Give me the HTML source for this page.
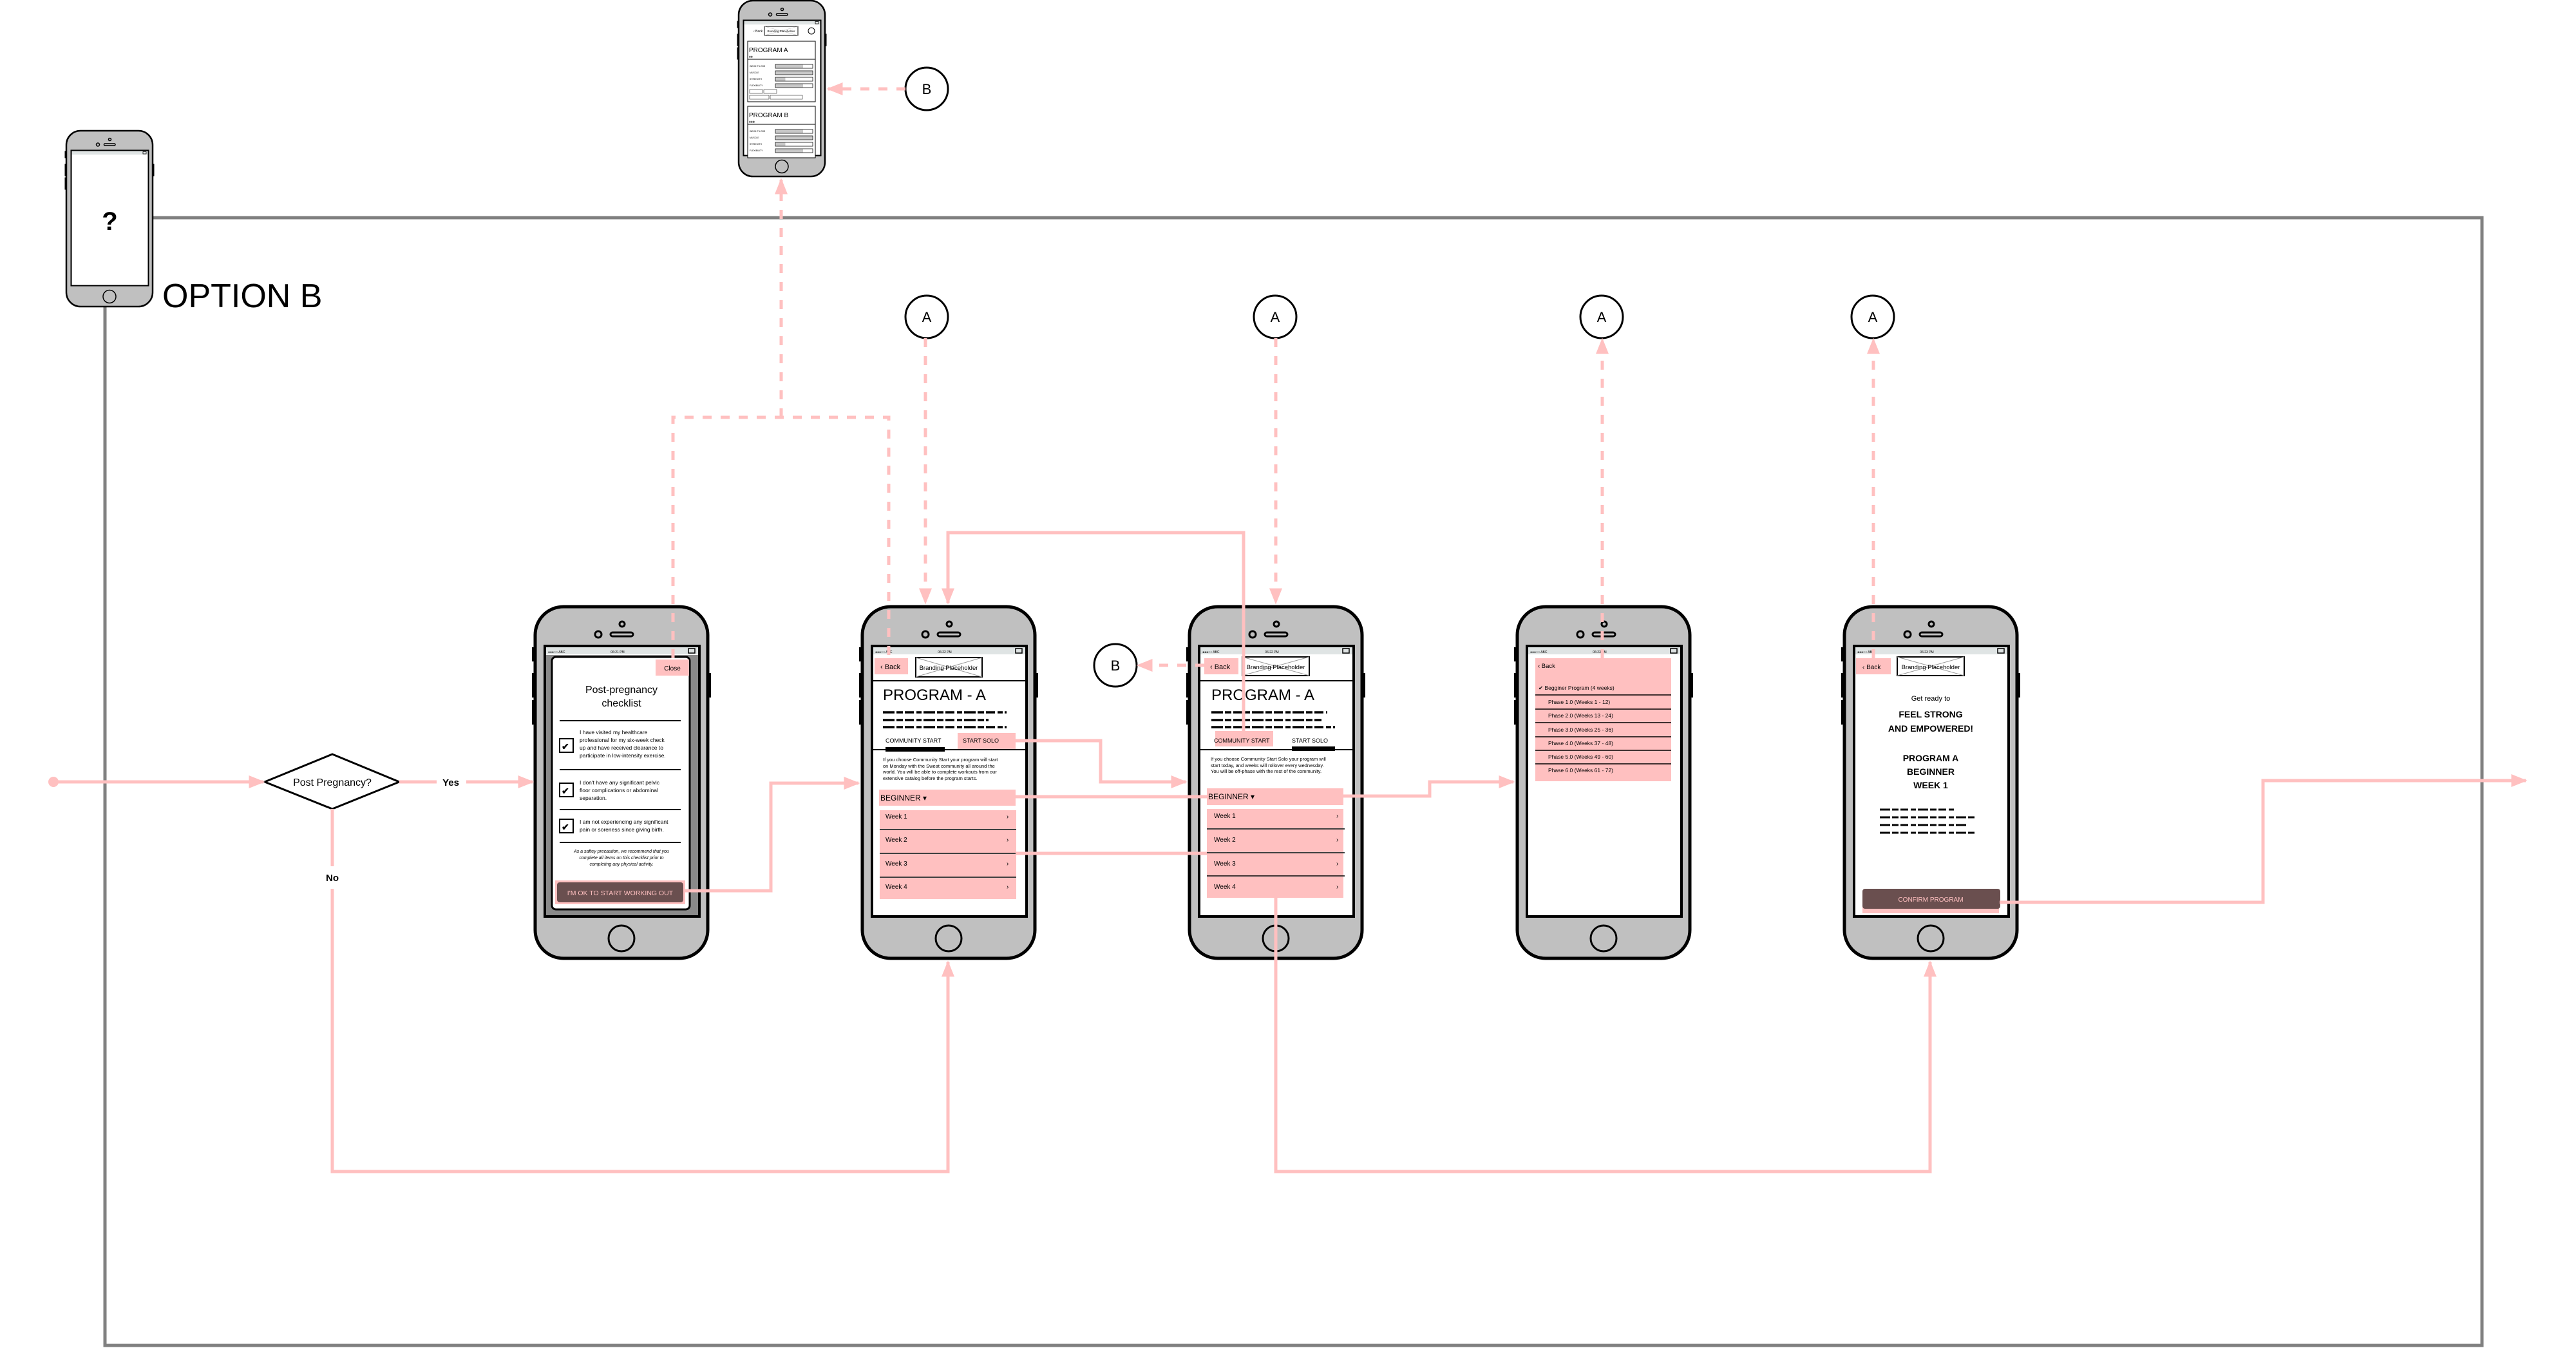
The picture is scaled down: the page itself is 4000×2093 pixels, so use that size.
<!DOCTYPE html>
<html><head><meta charset="utf-8"><style>
html,body{margin:0;padding:0;background:#fff}
svg{display:block}
text{font-family:"Liberation Sans",sans-serif}
</style></head><body>
<svg width="4000" height="2093" viewBox="0 0 4000 2093" xmlns="http://www.w3.org/2000/svg">
<defs>
<g id="frame">
 <rect x="-3" y="65" width="6" height="22" fill="#000"/>
 <rect x="-3" y="105" width="6" height="38" fill="#000"/>
 <rect x="-3" y="147" width="6" height="38" fill="#000"/>
 <rect x="269" y="105" width="6" height="38" fill="#000"/>
 <rect x="2" y="2" width="268" height="546" rx="44" fill="#c0c0c0" stroke="#000" stroke-width="5"/>
 <circle cx="137" cy="29" r="4" fill="none" stroke="#000" stroke-width="3"/>
 <circle cx="100" cy="45" r="5" fill="none" stroke="#000" stroke-width="3"/>
 <rect x="119" y="42" width="35" height="6" rx="3" fill="none" stroke="#000" stroke-width="3"/>
 <circle cx="136" cy="517" r="20" fill="none" stroke="#000" stroke-width="3"/>
 <rect x="17" y="63" width="240" height="420" fill="#fff" stroke="#000" stroke-width="4"/>
 <rect x="19" y="65" width="236" height="11" fill="#dfe4e4"/>
 <rect x="240" y="67" width="10" height="7" fill="none" stroke="#000" stroke-width="1.5"/>
</g>
<marker id="ah" viewBox="0 0 10 10" refX="9" refY="5" markerWidth="5" markerHeight="5" orient="auto" markerUnits="strokeWidth">
 <path d="M0,1 L10,5 L0,9 z" fill="#ffc0c0"/>
</marker>
</defs>

<!-- Big grey container -->
<rect x="163" y="338" width="3691" height="1751" fill="none" stroke="#808080" stroke-width="5"/>

<!-- ? phone -->
<g transform="translate(102,202) scale(0.5)">
 <use href="#frame"/>
 <text x="137" y="310" font-size="80" font-weight="bold" text-anchor="middle">?</text>
</g>
<text x="252" y="477" font-size="52">OPTION B</text>

<!-- Top small phone -->
<g transform="translate(1146,0) scale(0.5)">
 <use href="#frame"/>
 <text x="48" y="100" font-size="10">‹ Back</text>
 <rect x="82" y="82" width="104" height="28" fill="#fff" stroke="#000" stroke-width="2"/>
 <path d="M82,82 L186,110 M186,82 L82,110" stroke="#bbb" stroke-width="1"/>
 <text x="134" y="100" font-size="9" text-anchor="middle">Branding Placeholder</text>
 <circle cx="228" cy="96" r="10" fill="none" stroke="#000" stroke-width="2"/>
 <rect x="30" y="128" width="210" height="188" fill="#fff" stroke="#000" stroke-width="2"/>
 <text x="34" y="162" font-size="20">PROGRAM A</text>
 <text x="34" y="180" font-size="12">♦♦</text>
 <line x1="30" y1="184" x2="240" y2="184" stroke="#000" stroke-width="2"/>
 <g font-size="7">
  <text x="36" y="208">WEIGHT LOSS</text><text x="36" y="228">MUSCLE</text><text x="36" y="248">STRENGTH</text><text x="36" y="268">FLEXIBILITY</text>
 </g>
 <g fill="#fff" stroke="#000" stroke-width="1.5">
  <rect x="116" y="200" width="116" height="12"/><rect x="116" y="220" width="116" height="12"/><rect x="116" y="240" width="116" height="12"/><rect x="116" y="260" width="116" height="12"/>
 </g>
 <g fill="#c8c8c8"><rect x="117" y="201" width="85" height="10"/><rect x="117" y="221" width="114" height="10"/><rect x="117" y="241" width="30" height="10"/><rect x="117" y="261" width="85" height="10"/></g>
 <rect x="36" y="278" width="40" height="12" fill="none" stroke="#000"/><rect x="80" y="278" width="40" height="12" fill="none" stroke="#000"/>
 <rect x="36" y="296" width="60" height="12" fill="none" stroke="#000"/><rect x="100" y="296" width="100" height="12" fill="none" stroke="#000"/>
 <rect x="30" y="330" width="210" height="160" fill="#fff" stroke="#000" stroke-width="2"/>
 <text x="34" y="364" font-size="20">PROGRAM B</text>
 <text x="34" y="382" font-size="12">♦♦♦</text>
 <line x1="30" y1="386" x2="240" y2="386" stroke="#000" stroke-width="2"/>
 <g font-size="7">
  <text x="36" y="410">WEIGHT LOSS</text><text x="36" y="430">MUSCLE</text><text x="36" y="450">STRENGTH</text><text x="36" y="470">FLEXIBILITY</text>
 </g>
 <g fill="#fff" stroke="#000" stroke-width="1.5">
  <rect x="116" y="402" width="116" height="12"/><rect x="116" y="422" width="116" height="12"/><rect x="116" y="442" width="116" height="12"/><rect x="116" y="462" width="116" height="12"/>
 </g>
 <g fill="#c8c8c8"><rect x="117" y="403" width="85" height="10"/><rect x="117" y="423" width="114" height="10"/><rect x="117" y="443" width="30" height="10"/><rect x="117" y="463" width="85" height="10"/></g>
</g>

<!-- B circles and A circles -->
<g fill="#fff" stroke="#000" stroke-width="3">
 <circle cx="1439" cy="138" r="33"/>
 <circle cx="1439" cy="492" r="33"/>
 <circle cx="1980" cy="492" r="33"/>
 <circle cx="2487" cy="492" r="33"/>
 <circle cx="2908" cy="492" r="33"/>
 <circle cx="1732" cy="1033" r="33"/>
</g>
<g font-size="22" text-anchor="middle">
 <text x="1439" y="146">B</text>
 <text x="1439" y="500">A</text><text x="1980" y="500">A</text><text x="2487" y="500">A</text><text x="2908" y="500">A</text>
 <text x="1732" y="1041">B</text>
</g>

<!-- Diamond -->
<polygon points="411,1214 516,1171 620,1214 516,1256" fill="#fff" stroke="#000" stroke-width="3"/>
<text x="516" y="1220" font-size="16" text-anchor="middle">Post Pregnancy?</text>

<!-- Phone 1 -->
<g transform="translate(829,940)">
 <use href="#frame"/>
 <rect x="19" y="77" width="236" height="404" fill="#8a8a8a"/>
 <rect x="28" y="80" width="214" height="392" rx="6" fill="#fff" stroke="#000" stroke-width="3"/>
 <rect x="189" y="84" width="52" height="25" fill="#ffc0c0"/>
 <text x="215" y="101" font-size="10" text-anchor="middle">Close</text>
 <text x="136" y="136" font-size="16" text-anchor="middle">Post-pregnancy</text>
 <text x="136" y="157" font-size="16" text-anchor="middle">checklist</text>
 <g stroke="#000" stroke-width="2"><line x1="40" y1="179" x2="228" y2="179"/><line x1="40" y1="255" x2="228" y2="255"/><line x1="40" y1="317" x2="228" y2="317"/><line x1="40" y1="368" x2="228" y2="368"/></g>
 <g fill="#fff" stroke="#000" stroke-width="2"><rect x="40" y="207" width="21" height="21"/><rect x="40" y="276" width="21" height="21"/><rect x="40" y="332" width="21" height="21"/></g>
 <g font-size="14" font-weight="bold"><text x="43" y="224">✔</text><text x="43" y="293">✔</text><text x="43" y="349">✔</text></g>
 <g font-size="8.5">
  <text x="71" y="200">I have visited my healthcare</text><text x="71" y="212">professional for my six-week check</text><text x="71" y="224">up and have received clearance to</text><text x="71" y="236">participate in low-intensity exercise.</text>
  <text x="71" y="278">I don't have any significant pelvic</text><text x="71" y="290">floor complications or abdominal</text><text x="71" y="302">separation.</text>
  <text x="71" y="339">I am not experiencing any significant</text><text x="71" y="351">pain or soreness since giving birth.</text>
 </g>
 <g font-size="7" font-style="italic" text-anchor="middle"><text x="136" y="384">As a saftey precaution, we recommend that you</text><text x="136" y="394">complete all items on this checklist prior to</text><text x="136" y="404">completing any physical activity.</text></g>
 <rect x="33" y="427" width="202" height="37" fill="#ffc0c0"/>
 <rect x="36" y="430" width="196" height="31" rx="4" fill="#6a4f4f"/>
 <text x="134" y="450" font-size="10.5" fill="#ffc0c0" text-anchor="middle">I'M OK TO START WORKING OUT</text>
 <text x="22" y="74" font-size="5">●●●○○ ABC</text><text x="130" y="74" font-size="5" text-anchor="middle">06:21 PM</text>
</g>

<!-- Phone 2 -->
<g transform="translate(1337,940)">
 <use href="#frame"/>
 <text x="22" y="74" font-size="5">●●●○○ ABC</text><text x="130" y="74" font-size="5" text-anchor="middle">06:22 PM</text>
 <rect x="21" y="82" width="52" height="25" fill="#ffc0c0"/>
 <text x="30" y="99" font-size="11">‹ Back</text>
 <rect x="85" y="81" width="103" height="30" fill="#fff" stroke="#000" stroke-width="2"/>
 <path d="M85,81 L188,111 M188,81 L85,111" stroke="#999" stroke-width="1"/>
 <text x="136" y="100" font-size="9.5" text-anchor="middle">Branding Placeholder</text>
 <line x1="19" y1="117" x2="255" y2="117" stroke="#000" stroke-width="2"/>
 <text x="34" y="147" font-size="24">PROGRAM - A</text>
 <g stroke="#000" stroke-width="3.5" stroke-dasharray="18 3 10 3 14 4 8 3"><line x1="34" y1="166" x2="226" y2="166"/><line x1="34" y1="178" x2="198" y2="178"/><line x1="34" y1="189" x2="226" y2="189"/></g>
 <rect x="150" y="198" width="90" height="26" fill="#ffc0c0"/>
 <text x="38" y="213" font-size="9">COMMUNITY START</text><text x="158" y="213" font-size="9">START SOLO</text>
 <line x1="19" y1="224" x2="255" y2="224" stroke="#000" stroke-width="2"/>
 <rect x="38" y="220" width="92" height="7" fill="#000"/>
 <g font-size="7.5"><text x="34" y="242">If you choose Community Start your program will start</text><text x="34" y="252">on Monday with the Sweat community all around the</text><text x="34" y="261">world. You will be able to complete workouts from our</text><text x="34" y="271">extensive catalog before the program starts.</text></g>
 <rect x="28" y="286" width="212" height="25" fill="#ffc0c0"/>
 <text x="30" y="303" font-size="12">BEGINNER ▾</text>
 <g fill="#ffc0c0"><rect x="29" y="318" width="212" height="29"/><rect x="29" y="349" width="212" height="35"/><rect x="29" y="386" width="212" height="35"/><rect x="29" y="423" width="212" height="33"/></g>
 <g stroke="#000" stroke-width="1.5"><line x1="29" y1="348" x2="241" y2="348"/><line x1="29" y1="385" x2="241" y2="385"/><line x1="29" y1="422" x2="241" y2="422"/></g>
 <g font-size="10"><text x="38" y="331">Week 1</text><text x="38" y="367">Week 2</text><text x="38" y="404">Week 3</text><text x="38" y="440">Week 4</text>
 <text x="226" y="331">›</text><text x="226" y="367">›</text><text x="226" y="404">›</text><text x="226" y="440">›</text></g>
</g>

<!-- Phone 3 -->
<g transform="translate(1845,940)">
 <use href="#frame"/>
 <text x="22" y="74" font-size="5">●●●○○ ABC</text><text x="130" y="74" font-size="5" text-anchor="middle">06:22 PM</text>
 <rect x="25" y="82" width="53" height="25" fill="#ffc0c0"/>
 <text x="34" y="99" font-size="11">‹ Back</text>
 <rect x="84" y="80" width="104" height="29" fill="#fff" stroke="#000" stroke-width="2"/>
 <path d="M84,80 L188,109 M188,80 L84,109" stroke="#999" stroke-width="1"/>
 <text x="136" y="99" font-size="9.5" text-anchor="middle">Branding Placeholder</text>
 <line x1="19" y1="117" x2="255" y2="117" stroke="#000" stroke-width="2"/>
 <text x="36" y="147" font-size="24">PROGRAM - A</text>
 <g stroke="#000" stroke-width="3.5" stroke-dasharray="18 3 10 3 14 4 8 3"><line x1="36" y1="166" x2="216" y2="166"/><line x1="36" y1="178" x2="207" y2="178"/><line x1="36" y1="189" x2="228" y2="189"/></g>
 <rect x="42" y="195" width="90" height="24" fill="#ffc0c0"/>
 <text x="40" y="213" font-size="9">COMMUNITY START</text><text x="161" y="213" font-size="9">START SOLO</text>
 <line x1="19" y1="224" x2="255" y2="224" stroke="#000" stroke-width="2"/>
 <rect x="161" y="219" width="67" height="7" fill="#000"/>
 <g font-size="7.5"><text x="35" y="241">If you choose Community Start Solo your program will</text><text x="35" y="251">start today, and weeks will rollover every wednesday.</text><text x="35" y="260">You will be off-phase with the rest of the community.</text></g>
 <rect x="29" y="284" width="212" height="26" fill="#ffc0c0"/>
 <text x="31" y="301" font-size="12">BEGINNER ▾</text>
 <g fill="#ffc0c0"><rect x="29" y="316" width="212" height="30"/><rect x="29" y="348" width="212" height="35"/><rect x="29" y="385" width="212" height="35"/><rect x="29" y="421" width="212" height="33"/></g>
 <g stroke="#000" stroke-width="1.5"><line x1="29" y1="347" x2="243" y2="347"/><line x1="29" y1="384" x2="243" y2="384"/><line x1="29" y1="420" x2="243" y2="420"/></g>
 <g font-size="10"><text x="40" y="340" dy="-10">Week 1</text><text x="40" y="367">Week 2</text><text x="40" y="404">Week 3</text><text x="40" y="440">Week 4</text>
 <text x="230" y="340" dy="-10">›</text><text x="230" y="367">›</text><text x="230" y="404">›</text><text x="230" y="440">›</text></g>
</g>

<!-- Phone 4 -->
<g transform="translate(2354,940)">
 <use href="#frame"/>
 <text x="22" y="74" font-size="5">●●●○○ ABC</text><text x="130" y="74" font-size="5" text-anchor="middle">06:23 PM</text>
 <rect x="30" y="82" width="211" height="191" fill="#ffc0c0"/>
 <text x="34" y="97" font-size="9.5">‹ Back</text>
 <text x="35" y="131" font-size="8.5">✔ Begginer Program (4 weeks)</text>
 <g stroke="#000" stroke-width="1.5"><line x1="30" y1="139" x2="241" y2="139"/><line x1="30" y1="161" x2="241" y2="161"/><line x1="30" y1="182" x2="241" y2="182"/><line x1="30" y1="204" x2="241" y2="204"/><line x1="30" y1="225" x2="241" y2="225"/><line x1="30" y1="246" x2="241" y2="246"/></g>
 <g font-size="8.5"><text x="50" y="153">Phase 1.0 (Weeks 1 - 12)</text><text x="50" y="174">Phase 2.0 (Weeks 13 - 24)</text><text x="50" y="196">Phase 3.0 (Weeks 25 - 36)</text><text x="50" y="217">Phase 4.0 (Weeks 37 - 48)</text><text x="50" y="238">Phase 5.0 (Weeks 49 - 60)</text><text x="50" y="259">Phase 6.0 (Weeks 61 - 72)</text></g>
</g>

<!-- Phone 5 -->
<g transform="translate(2862,940)">
 <use href="#frame"/>
 <text x="22" y="74" font-size="5">●●●○○ ABC</text><text x="130" y="74" font-size="5" text-anchor="middle">06:23 PM</text>
 <rect x="20" y="82" width="54" height="25" fill="#ffc0c0"/>
 <text x="30" y="99" font-size="10">‹ Back</text>
 <rect x="84" y="80" width="104" height="29" fill="#fff" stroke="#000" stroke-width="2"/>
 <path d="M84,80 L188,109 M188,80 L84,109" stroke="#999" stroke-width="1"/>
 <text x="136" y="99" font-size="9.5" text-anchor="middle">Branding Placeholder</text>
 <text x="136" y="148" font-size="11" text-anchor="middle">Get ready to</text>
 <g font-size="14" font-weight="bold" text-anchor="middle"><text x="136" y="174">FEEL STRONG</text><text x="136" y="196">AND EMPOWERED!</text><text x="136" y="242">PROGRAM A</text><text x="136" y="263">BEGINNER</text><text x="136" y="284">WEEK 1</text></g>
 <g stroke="#000" stroke-width="3" stroke-dasharray="16 3 10 3 12 4 8 3"><line x1="57" y1="317" x2="175" y2="317"/><line x1="57" y1="329" x2="205" y2="329"/><line x1="57" y1="341" x2="194" y2="341"/><line x1="57" y1="353" x2="207" y2="353"/></g>
 <rect x="30" y="468" width="212" height="10" fill="#ffc0c0"/>
 <rect x="30" y="440" width="214" height="31" rx="4" fill="#6a4f4f"/>
 <text x="136" y="460" font-size="10" fill="#ffc0c0" text-anchor="middle">CONFIRM PROGRAM</text>
</g>

<!-- Solid connectors -->
<g fill="none" stroke="#ffc0c0" stroke-width="5" stroke-linejoin="miter">
 <line x1="83" y1="1214" x2="409" y2="1214" marker-end="url(#ah)"/>
 <line x1="620" y1="1214" x2="678" y2="1214"/>
 <line x1="724" y1="1214" x2="827" y2="1214" marker-end="url(#ah)"/>
 <line x1="516" y1="1256" x2="516" y2="1345"/>
 <polyline points="516,1380 516,1819 1472,1819 1472,1494" marker-end="url(#ah)"/>
 <polyline points="1062,1383 1197,1383 1197,1216 1333,1216" marker-end="url(#ah)"/>
 <polyline points="1577,1150 1709,1150 1709,1214 1841,1214" marker-end="url(#ah)"/>
 <line x1="1577" y1="1237" x2="1874" y2="1237"/>
 <line x1="1577" y1="1325" x2="1874" y2="1325"/>
 <polyline points="2086,1236 2220,1236 2220,1214 2350,1214" marker-end="url(#ah)"/>
 <polyline points="1931,1135 1931,827 1472,827 1472,936" marker-end="url(#ah)"/>
 <polyline points="1981,1393 1981,1819 2997,1819 2997,1494" marker-end="url(#ah)"/>
 <polyline points="3105,1401 3514,1401 3514,1212 3922,1212" marker-end="url(#ah)"/>
</g>
<circle cx="83" cy="1214" r="8" fill="#ffc0c0"/>
<text x="700" y="1220" font-size="15" font-weight="bold" text-anchor="middle">Yes</text>
<text x="516" y="1368" font-size="15" font-weight="bold" text-anchor="middle">No</text>

<!-- Dashed connectors -->
<g fill="none" stroke="#ffc0c0" stroke-width="5" stroke-dasharray="14 14">
 <line x1="1406" y1="138" x2="1286" y2="138" marker-end="url(#ah)"/>
 <line x1="1213" y1="648" x2="1213" y2="279" marker-end="url(#ah)"/>
 <polyline points="1045,1022 1045,648 1380,648 1380,1030"/>
 <line x1="1437" y1="525" x2="1437" y2="936" marker-end="url(#ah)"/>
 <line x1="1981" y1="525" x2="1981" y2="936" marker-end="url(#ah)"/>
 <line x1="2488" y1="1022" x2="2488" y2="527" marker-end="url(#ah)"/>
 <line x1="2909" y1="1022" x2="2909" y2="527" marker-end="url(#ah)"/>
 <line x1="1870" y1="1033" x2="1767" y2="1033" marker-end="url(#ah)"/>
</g>
</svg>
</body></html>
